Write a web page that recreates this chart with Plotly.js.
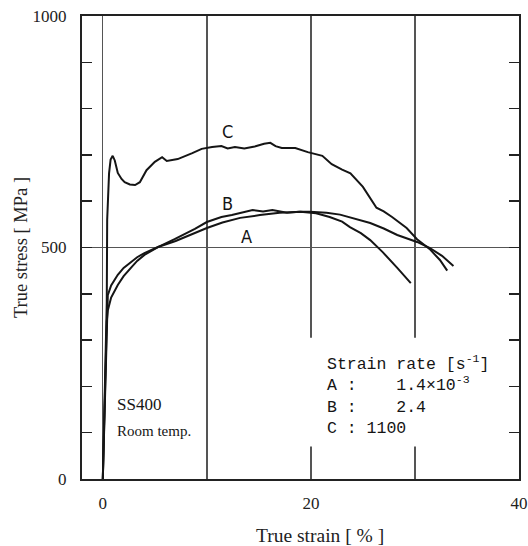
<!DOCTYPE html>
<html>
<head>
<meta charset="utf-8">
<script src="https://cdn.plot.ly/plotly-3.0.1.min.js"></script>
<style>html,body{margin:0;padding:0;background:#fff;}#chart{width:528px;height:546px;}</style>
</head>
<body>
<div id="chart"></div>
<script>
// Curve A (strain rate 1.4e-3 /s)
var strainA = [0, 0.38, 0.48, 0.8, 1.44, 2.0, 2.7, 3.3, 4.0, 5.3, 7.0, 8.5, 10.0, 11.5, 13.2, 15.1, 17.0, 19.0, 20.5, 21.8, 23.0, 23.75, 24.8, 25.7, 26.9, 28.3, 29.6];
var stressA = [0, 365, 397, 418, 441, 456, 469, 479, 488, 501, 514, 528, 542, 554, 564, 570, 575, 577, 574, 566, 556, 544, 531, 516, 490, 456, 423];

// Curve B (strain rate 2.4 /s)
var strainB = [0, 0.38, 0.48, 0.8, 1.44, 2.0, 2.7, 3.3, 4.0, 5.3, 6.9, 8.85, 10.0, 11.4, 12.4, 13.2, 14.4, 15.4, 16.3, 17.7, 18.9, 19.9, 21.5, 22.8, 24.2, 25.7, 27.0, 28.3, 30.2, 31.4, 32.6, 33.7];
var stressB = [0, 340, 364, 392, 419, 438, 456, 471, 484, 501, 518, 540, 555, 566, 570, 575, 581, 578, 581, 575, 577, 577, 575, 571, 563, 553, 541, 527, 512, 499, 482, 460];

// Curve C (strain rate 1100 /s)
var strainC = [0, 0.38, 0.42, 0.5, 0.6, 0.75, 0.95, 1.15, 1.44, 1.8, 2.1, 2.6, 3.1, 3.56, 4.2, 5.0, 5.7, 6.15, 7.2, 8.6, 9.5, 10.5, 11.4, 12.0, 12.7, 13.6, 14.6, 15.5, 16.1, 16.6, 17.2, 18.5, 19.7, 21.1, 22.0, 23.0, 23.8, 25.0, 26.3, 27.0, 27.8, 29.2, 30.2, 31.4, 32.4, 33.1];
var stressC = [0, 380, 560, 625, 660, 690, 698, 688, 661, 648, 641, 636, 635, 641, 667, 685, 695, 687, 691, 704, 713, 717, 719, 714, 717, 714, 718, 724, 726, 719, 715, 715, 706, 698, 680, 668, 660, 631, 586, 578, 566, 542, 518, 497, 473, 450];

var xLabelVals = [0, 20, 40];
var yLabelVals = [0, 500, 1000];

var curveLabels = ['A', 'B', 'C'];
var legendLines = [
  'Strain rate [s<sup>-1</sup>]',
  'A :\u00A0\u00A0\u00A0\u00A01.4\u00D710<sup>-3</sup>',
  'B :\u00A0\u00A0\u00A0\u00A02.4',
  'C : 1100'
];
var materialText = 'SS400';
var conditionText = 'Room temp.';
var xTitle = 'True strain [ % ]';
var yTitle = 'True stress [ MPa ]';

var lineStyle = {color: '#151515', width: 2};
var traces = [
  {x: strainA, y: stressA, type: 'scatter', mode: 'lines', line: lineStyle, name: 'A'},
  {x: strainB, y: stressB, type: 'scatter', mode: 'lines', line: lineStyle, name: 'B'},
  {x: strainC, y: stressC, type: 'scatter', mode: 'lines', line: lineStyle, name: 'C'}
];

var serif = 'Liberation Serif, Times New Roman, serif';
var labelFont = {family: 'Liberation Sans Narrow, DejaVu Sans Condensed, sans-serif', size: 18, color: '#151515'};

var layout = {
  width: 528, height: 546,
  margin: {l: 82, r: 9, t: 16, b: 67},
  paper_bgcolor: '#fff', plot_bgcolor: '#fff',
  showlegend: false,
  xaxis: {
    range: [-2, 40], tickmode: 'array', tickvals: xLabelVals,
    showgrid: true, gridcolor: '#555', gridwidth: 1.3, zeroline: false,
    minor: {tickmode: 'linear', tick0: 0, dtick: 10, showgrid: true, gridcolor: '#555', gridwidth: 1.3, ticks: ''},
    showline: true, linecolor: '#222', linewidth: 2, mirror: true, ticks: '',
    tickfont: {family: serif, size: 17, color: '#222'}, ticklabelstandoff: 8,
    automargin: false
  },
  yaxis: {
    range: [0, 1000], tickmode: 'array', tickvals: yLabelVals,
    ticks: 'inside', ticklen: 10, tickwidth: 1.5, tickcolor: '#222',
    minor: {tickmode: 'linear', tick0: 0, dtick: 100, ticks: 'inside', ticklen: 10, tickwidth: 1.5, tickcolor: '#222', showgrid: false},
    showgrid: true, gridcolor: '#555', gridwidth: 1.3, zeroline: false,
    showline: true, linecolor: '#222', linewidth: 2, mirror: 'ticks',
    tickfont: {family: serif, size: 17, color: '#222'}, ticklabelstandoff: 10,
    automargin: false,
    title: {text: yTitle, font: {family: serif, size: 18.5, color: '#222'}, standoff: 0}
  },
  shapes: [
    {type: 'rect', xref: 'x', x0: 18.9, x1: 39.3, yref: 'y', y0: 70, y1: 305,
     fillcolor: '#fff', line: {width: 0}, layer: 'between'}
  ],
  annotations: [
    {xref: 'paper', yref: 'paper', x: 0.5457, y: -0.122, yanchor: 'middle', text: xTitle, showarrow: false,
     font: {family: serif, size: 19.5, color: '#222'}},
    {xref: 'x', yref: 'y', x: 12.0, y: 750, text: curveLabels[2], showarrow: false, font: labelFont},
    {xref: 'x', yref: 'y', x: 12.0, y: 596, text: curveLabels[1], showarrow: false, font: labelFont},
    {xref: 'x', yref: 'y', x: 13.85, y: 523, text: curveLabels[0], showarrow: false, font: labelFont},
    {xref: 'x', yref: 'y', x: 21.4, y: 182, text: legendLines.join('<br>'), showarrow: false,
     xanchor: 'left', yanchor: 'middle', align: 'left',
     font: {family: 'Liberation Mono, DejaVu Sans Mono, monospace', size: 16.5, color: '#151515'}},
    {xref: 'x', yref: 'y', x: 1.17, y: 160, text: materialText, showarrow: false, xanchor: 'left',
     font: {family: serif, size: 17, color: '#151515'}},
    {xref: 'x', yref: 'y', x: 1.17, y: 104, text: conditionText, showarrow: false, xanchor: 'left',
     font: {family: serif, size: 15, color: '#151515'}}
  ]
};

Plotly.newPlot('chart', traces, layout, {displayModeBar: false, staticPlot: true});
</script>
</body>
</html>
